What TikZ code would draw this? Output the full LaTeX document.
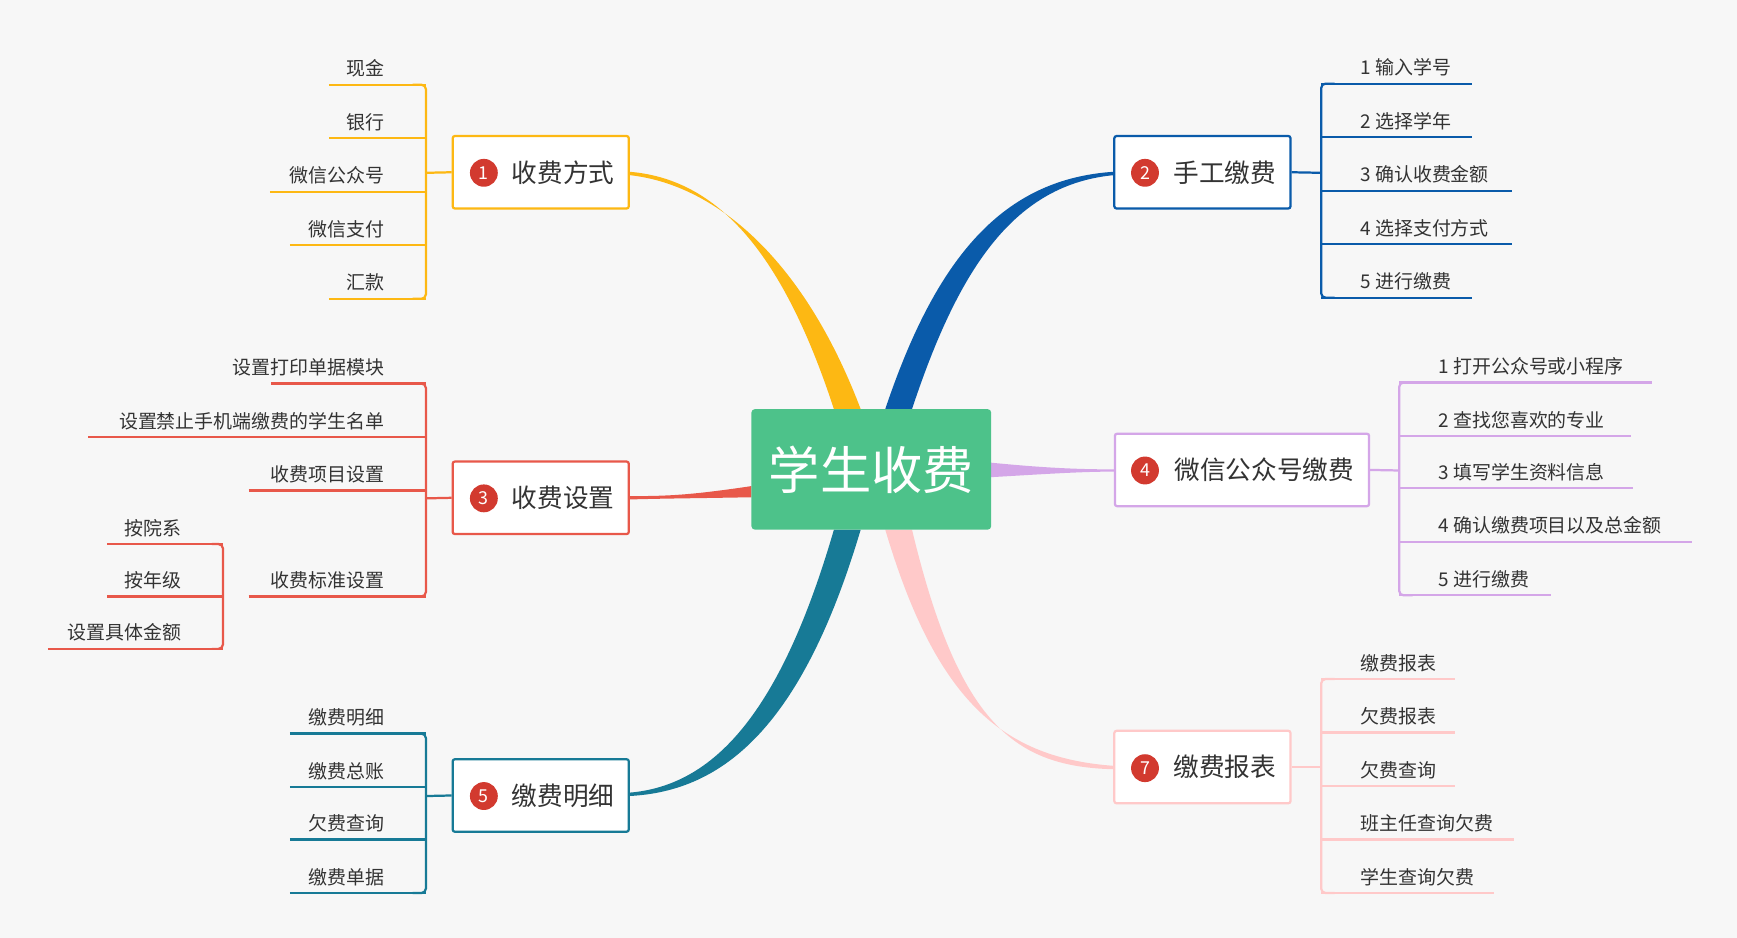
\documentclass[tikz,border=0pt]{standalone}
\usepackage{fontspec}
\setmainfont{Noto Sans CJK SC}
\begin{document}
\begin{tikzpicture}[x=1pt,y=-1pt,
  topic/.style={draw,line width=2pt,rounded corners=2pt,fill=white,minimum width=158pt,minimum height=65pt,font=\fontsize{23}{26}\selectfont,text=black!80,inner sep=0pt},
  num/.style={circle,fill=numred,text=white,inner sep=0pt,minimum size=25pt,font=\fontsize{16}{16}\selectfont},
  lf/.style={font=\fontsize{17}{20}\selectfont,text=black!80,inner sep=0pt}]
\definecolor{bg}{HTML}{F7F7F7}
\definecolor{c1}{HTML}{FDB813}\definecolor{c2}{HTML}{0A5BAA}\definecolor{c3}{HTML}{E8584A}
\definecolor{c4}{HTML}{D4A6E8}\definecolor{c5}{HTML}{177A96}\definecolor{c7}{HTML}{FFC9C9}
\definecolor{numred}{HTML}{D23A2F}\definecolor{cg}{HTML}{4DC28A}
\fill[bg] (0,0) rectangle (1558,841);
\useasboundingbox (0,0) rectangle (1558,841);
% branches
\fill[c1] (748,367) .. controls (700,220) and (640,160) .. (564,154) -- (564,157) .. controls (640,165) and (720,230) .. (772,367) -- cycle;
\fill[c2] (794,367) .. controls (840,230) and (900,160) .. (1000,154) -- (1000,157) .. controls (910,165) and (860,240) .. (818,367) -- cycle;
\fill[c3] (674,436) .. controls (620,444) and (600,445) .. (564,445) -- (564,448) .. controls (600,447) and (620,447) .. (674,446) -- cycle;
\fill[c4] (889,415) .. controls (940,420) and (970,421) .. (1000,421) -- (1000,423) .. controls (970,423) and (940,425) .. (889,428) -- cycle;
\fill[c5] (748,475) .. controls (700,640) and (640,705) .. (564,711) -- (564,714) .. controls (650,710) and (720,650) .. (772,475) -- cycle;
\fill[c7] (794,475) .. controls (840,630) and (900,680) .. (1000,687) -- (1000,690) .. controls (910,688) and (860,650) .. (818,475) -- cycle;
\node[fill=cg,rounded corners=3pt,minimum width=215pt,minimum height=108pt,text=white,font=\fontsize{46}{50}\selectfont] (c) at (781.5,421) {学生收费};
% topics
\node[topic,draw=c1] (t1) at (485,154.5) {\hspace*{40pt}收费方式};
\node[num] (n1) at (434,155) {1};
\node[topic,draw=c2] (t2) at (1078.5,154.5) {\hspace*{40pt}手工缴费};
\node[num] (n2) at (1027,155) {2};
\node[topic,draw=c3] (t3) at (485,446.5) {\hspace*{40pt}收费设置};
\node[num] (n3) at (434,447) {3};
\node[topic,draw=c4,minimum width=228pt] (t4) at (1114,421.5) {\hspace*{40pt}微信公众号缴费};
\node[num] (n4) at (1027,422) {4};
\node[topic,draw=c5] (t5) at (485,713.5) {\hspace*{40pt}缴费明细};
\node[num] (n5) at (434,714) {5};
\node[topic,draw=c7] (t7) at (1078.5,688) {\hspace*{40pt}缴费报表};
\node[num] (n7) at (1027,689) {7};
% left leaves: x-start, y, text, color, vertical x
\foreach \xs/\y/\t/\c/\vx in {295/76/现金/c1/382,295/124/银行/c1/382,242/172/微信公众号/c1/382,260/220/微信支付/c1/382,295/268/汇款/c1/382,
  243/344/设置打印单据模块/c3/382,79/392/设置禁止手机端缴费的学生名单/c3/382,223/440/收费项目设置/c3/382,223/535/收费标准设置/c3/382,
  96/488/按院系/c3/200,96/535/按年级/c3/200,43/582/设置具体金额/c3/200,
  260/658/缴费明细/c5/382,260/706/缴费总账/c5/382,260/753/欠费查询/c5/382,260/801/缴费单据/c5/382}{
  \draw[\c,line width=2pt] (\xs,\y) -- (\vx,\y);
  \node[lf,anchor=base east] at (\vx-37,\y-8) {\t};
}
\draw[c1,line width=2pt,rounded corners=4pt] (370,76) -- (382,76) -- (382,268) -- (370,268);
\draw[c1,line width=2pt] (382,155) -- (t1.west);
\draw[c3,line width=2pt,rounded corners=4pt] (370,344) -- (382,344) -- (382,535) -- (370,535);
\draw[c3,line width=2pt] (382,447) -- (t3.west);
\draw[c3,line width=2pt,rounded corners=4pt] (190,488) -- (200,488) -- (200,582) -- (190,582);
\draw[c5,line width=2pt,rounded corners=4pt] (370,658) -- (382,658) -- (382,801) -- (370,801);
\draw[c5,line width=2pt] (382,714) -- (t5.west);
% right leaves
\foreach \xe/\y/\t/\c/\vx in {1320/75/1 输入学号/c2/1185,1320/123/2 选择学年/c2/1185,1356/171/3 确认收费金额/c2/1185,1356/219/4 选择支付方式/c2/1185,1320/267/5 进行缴费/c2/1185,
  1482/343/1 打开公众号或小程序/c4/1255,1463/391/2 查找您喜欢的专业/c4/1255,1465/438/3 填写学生资料信息/c4/1255,1518/486/4 确认缴费项目以及总金额/c4/1255,1391/534/5 进行缴费/c4/1255,
  1305/609/缴费报表/c7/1185,1305/657/欠费报表/c7/1185,1305/705/欠费查询/c7/1185,1358/753/班主任查询欠费/c7/1185,1340/801/学生查询欠费/c7/1185}{
  \draw[\c,line width=2pt] (\vx,\y) -- (\xe,\y);
  \node[lf,anchor=base west] at (\vx+35,\y-8) {\t};
}
\draw[c2,line width=2pt,rounded corners=4pt] (1197,75) -- (1185,75) -- (1185,267) -- (1197,267);
\draw[c2,line width=2pt] (t2.east) -- (1185,155);
\draw[c4,line width=2pt,rounded corners=4pt] (1267,343) -- (1255,343) -- (1255,534) -- (1267,534);
\draw[c4,line width=2pt] (t4.east) -- (1255,422);
\draw[c7,line width=2pt,rounded corners=4pt] (1197,609) -- (1185,609) -- (1185,801) -- (1197,801);
\draw[c7,line width=2pt] (t7.east) -- (1185,688);
\end{tikzpicture}
\end{document}
